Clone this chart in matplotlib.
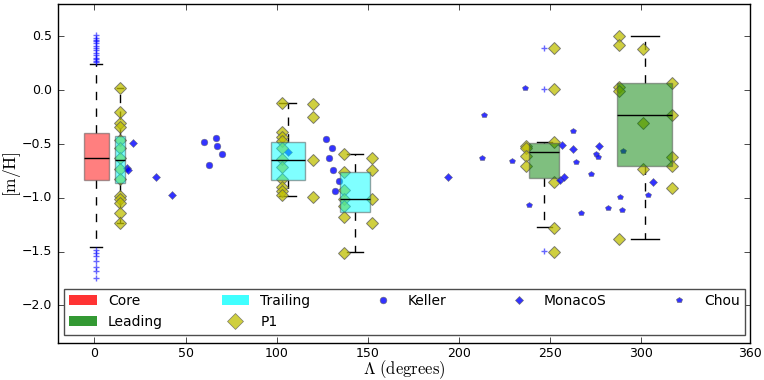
import matplotlib
matplotlib.use("Agg")
import matplotlib.pyplot as plt
from matplotlib.patches import Patch
from matplotlib.lines import Line2D

plt.style.use("classic")
plt.rcParams["mathtext.fontset"] = "cm"
plt.rcParams["font.family"] = ["DejaVu Sans"]

# box statistics (longitude position, width, quartiles, whiskers)
box_names = ["Core", "Trailing", "Trailing", "Trailing", "Leading", "Leading"]
box_pos = [1, 14, 106, 143, 247, 302]
box_width = [13.5, 5.7, 18.7, 16.9, 16.5, 30.6]
box_med = [-0.63, -0.648, -0.651, -1.014, -0.573, -0.230]
box_q1 = [-0.835, -0.865, -0.838, -1.128, -0.819, -0.706]
box_q3 = [-0.40, -0.426, -0.485, -0.759, -0.488, 0.071]
box_lo = [-1.454, -1.232, -0.986, -1.503, -1.272, -1.383]
box_hi = [0.247, 0.018, -0.119, -0.589, -0.479, 0.502]
core_fliers = [0.51, 0.49, 0.47, 0.46, 0.44, 0.41, 0.39, 0.37, 0.35, 0.33, 0.30,
               0.29, 0.27, 0.26, -1.48, -1.51, -1.54, -1.59, -1.64, -1.68, -1.74]
lead_fliers = [0.39, 0.01, -1.49]

# P1 stars
p1_lon = [14, 14, 14, 14, 14, 14, 14, 14, 14, 14, 14, 14, 14, 14,
          103, 103, 103, 103, 103, 103, 103, 103, 103, 103, 103,
          120, 120, 120, 120,
          137, 137, 137, 137, 137, 137, 137,
          152.5, 152.5, 152.5, 152.5,
          237, 237, 237, 237,
          252.5, 252.5, 252.5, 252.5, 252.5, 252.5,
          287.7, 287.7, 287.7, 287.7, 287.7,
          301, 301, 301,
          317, 317, 317, 317, 317]
p1_mh = [0.02, -0.20, -0.30, -0.34, -0.46, -0.54, -0.63, -0.73, -0.82, -0.98, -1.01, -1.05, -1.14, -1.23,
         -0.12, -0.39, -0.43, -0.47, -0.54, -0.64, -0.71, -0.82, -0.90, -0.94, -0.97,
         -0.13, -0.25, -0.65, -0.99,
         -0.59, -0.76, -0.93, -1.01, -1.08, -1.18, -1.51,
         -0.63, -0.74, -1.01, -1.23,
         -0.52, -0.54, -0.61, -0.70,
         0.39, 0.01, -0.48, -0.85, -1.28, -1.50,
         0.50, 0.42, 0.03, -0.01, -1.38,
         0.38, -0.30, -0.73,
         0.07, -0.23, -0.62, -0.70, -0.91]

keller_lon = [60.2, 66.7, 67.1, 69.9, 62.9, 126.9, 130.2, 128.9, 131.1, 134.2, 132.2]
keller_mh = [-0.48, -0.44, -0.52, -0.59, -0.69, -0.45, -0.535, -0.63, -0.74, -0.84, -0.935]

monaco_lon = [21.3, 18.1, 18.6, 33.6, 42.6, 106.4, 194, 256.5, 262.5, 276.8, 255.5, 257.5, 306.8]
monaco_mh = [-0.49, -0.72, -0.74, -0.81, -0.97, -0.57, -0.81, -0.51, -0.55, -0.52, -0.83, -0.81, -0.85]

chou_lon = [214, 212.7, 229, 236.5, 238.5, 262.9, 264.5, 272.6, 266.9, 275.5, 276.6,
            281.7, 288.6, 289.4, 290, 303.8]
chou_mh = [-0.23, -0.63, -0.66, 0.02, -1.07, -0.38, -0.67, -0.78, -1.14, -0.59, -0.62,
           -1.09, -0.99, -1.11, -0.56, -0.975]

box_color = {"Core": "red", "Trailing": "cyan", "Leading": "g"}

fig = plt.figure(figsize=(7.64, 3.8), dpi=100, facecolor="w")
ax = fig.add_axes([0.076, 0.097, 0.906, 0.892])

stats = []
for i in range(len(box_pos)):
    fl = []
    if i == 0:
        fl = core_fliers
    if i == 4:
        fl = lead_fliers
    stats.append(dict(med=box_med[i], q1=box_q1[i], q3=box_q3[i],
                      whislo=box_lo[i], whishi=box_hi[i], fliers=fl))

bp = ax.bxp(stats, positions=box_pos, widths=box_width, patch_artist=True,
            manage_ticks=False,
            boxprops=dict(edgecolor="0.3", linewidth=1.0, zorder=4),
            medianprops=dict(color="k", linewidth=1.0, zorder=5),
            whiskerprops=dict(color="k", linestyle="--", linewidth=1.0, zorder=2),
            capprops=dict(color="k", linewidth=1.0, zorder=2),
            flierprops=dict(marker="+", markeredgecolor="b", markersize=5,
                            alpha=0.6, linestyle="none", zorder=2))
for patch, name in zip(bp["boxes"], box_names):
    patch.set_facecolor(box_color[name])
    patch.set_alpha(0.5)

ax.plot(p1_lon, p1_mh, "D", color="y", markeredgecolor="0.35", markeredgewidth=0.7,
        markersize=6.5, alpha=0.75, zorder=3)
ax.plot(keller_lon, keller_mh, "o", color="b", markeredgecolor="0.4", markeredgewidth=0.4,
        markersize=4.8, alpha=0.8, zorder=3)
ax.plot(monaco_lon, monaco_mh, "D", color="b", markeredgecolor="0.4", markeredgewidth=0.4,
        markersize=3.6, alpha=0.8, zorder=3)
ax.plot(chou_lon, chou_mh, "p", color="b", markeredgecolor="0.4", markeredgewidth=0.4,
        markersize=4, alpha=0.8, zorder=3)

handles = [Patch(facecolor="red", alpha=0.8, edgecolor="none", label="Core"),
           Patch(facecolor="g", alpha=0.8, edgecolor="none", label="Leading"),
           Patch(facecolor="cyan", alpha=0.75, edgecolor="none", label="Trailing"),
           Line2D([], [], marker="D", color="y", markeredgecolor="0.35", linestyle="none",
                  markersize=8, alpha=0.75, label="P1"),
           Line2D([], [], marker="o", color="b", markeredgecolor="0.4", linestyle="none",
                  markersize=4.8, alpha=0.8, label="Keller"),
           Line2D([], [], marker="D", color="b", markeredgecolor="0.4", linestyle="none",
                  markersize=3.6, alpha=0.8, label="MonacoS"),
           Line2D([], [], marker="p", color="b", markeredgecolor="0.4", linestyle="none",
                  markersize=4, alpha=0.8, label="Chou")]
leg = ax.legend(handles=handles, loc="lower left", ncol=5, mode="expand",
                bbox_to_anchor=(0.008, 0.025, 0.985, 0.12), borderaxespad=0,
                numpoints=1, fontsize=10, handlelength=2.0, frameon=True)
leg.get_frame().set_edgecolor("0.3")

ax.set_xlim(-20, 360)
ax.set_ylim(-2.35, 0.8)
ax.set_xticks([0, 50, 100, 150, 200, 250, 300, 360])
ax.set_yticks([-2.0, -1.5, -1.0, -0.5, 0.0, 0.5])
ax.tick_params(labelsize=9, direction="in")
ax.tick_params(axis="x", pad=3)
ax.set_xlabel(r"$\Lambda\ (\mathrm{degrees})$", fontsize=12)
ax.set_ylabel(r"$[\mathrm{m/H}]$", fontsize=12.5)
ax.xaxis.set_label_coords(0.5, -0.046)
ax.yaxis.set_label_coords(-0.05, 0.5)

fig.savefig("out.png", dpi=100, facecolor="w")
